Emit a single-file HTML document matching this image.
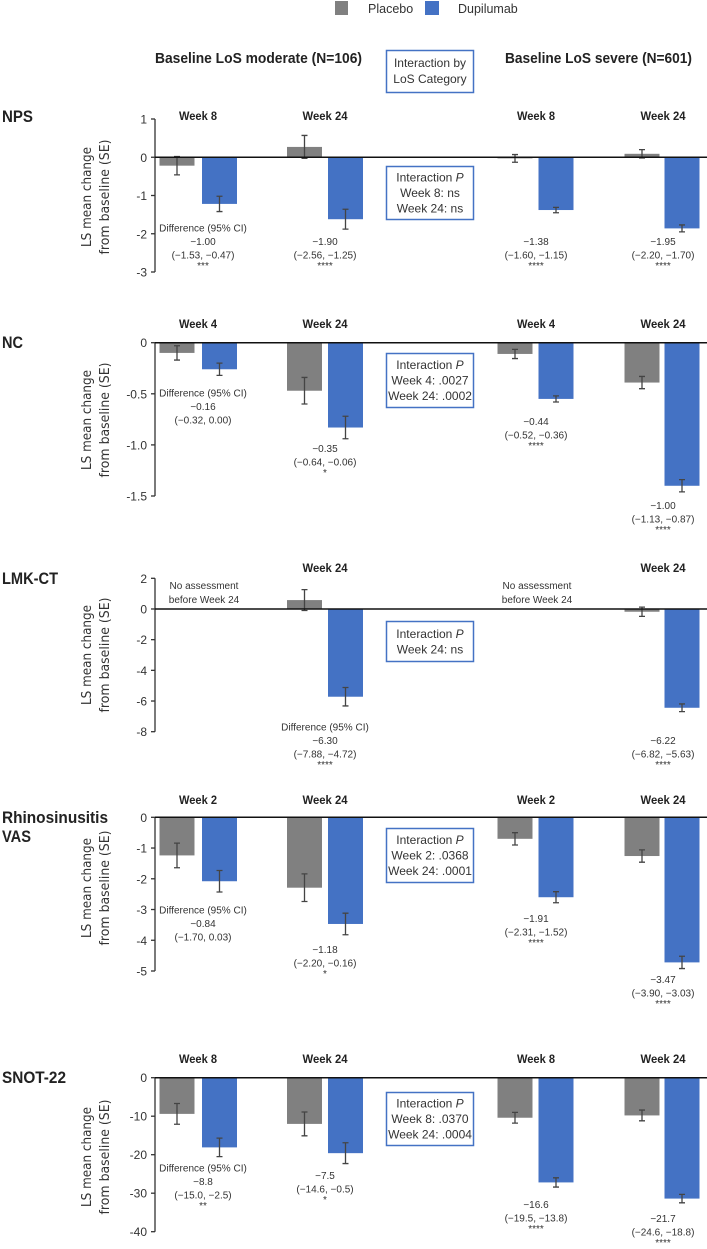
<!DOCTYPE html>
<html><head><meta charset="utf-8">
<style>
html,body{margin:0;padding:0;background:#fff;}
svg{display:block;font-family:"Liberation Sans Narrow","Liberation Sans",sans-serif;}
.b{font-weight:bold;fill:#222;}
.t{fill:#333;font-size:10px;}
.tk{fill:#333;font-size:12px;font-family:"Liberation Sans",sans-serif;}
</style></head>
<body>
<svg id="chart" width="707" height="1249" viewBox="0 0 707 1249">
  <g>
    <rect x="335" y="1" width="13" height="14" fill="#808080"/>
    <text x="368" y="13" font-size="12.5" fill="#333">Placebo</text>
    <rect x="425" y="1" width="14" height="14" fill="#4472c4"/>
    <text x="458" y="13" font-size="12.5" fill="#333">Dupilumab</text>
  </g>
  <text class="b" x="155" y="63" font-size="15" textLength="207" lengthAdjust="spacingAndGlyphs">Baseline LoS moderate (N=106)</text>
  <text class="b" x="505" y="63" font-size="15" textLength="187" lengthAdjust="spacingAndGlyphs">Baseline LoS severe (N=601)</text>
  <g>
    <rect x="386.5" y="50.5" width="87" height="42" fill="#fff" stroke="#4472c4" stroke-width="1.5"/>
    <text x="430" y="67" font-size="12" fill="#333" text-anchor="middle">Interaction by</text>
    <text x="430" y="83" font-size="12" fill="#333" text-anchor="middle">LoS Category</text>
  </g>
  <g id="panels"></g>
</svg>
<script>
// ---- data ----
const weeksNPS = ["Week 8","Week 24","Week 8","Week 24"];
const npsPlacebo = [-0.22, 0.27, -0.03, 0.09];
const npsPlaceboSE = [0.24, 0.30, 0.10, 0.11];
const npsDupi = [-1.22, -1.62, -1.38, -1.86];
const npsDupiSE = [0.20, 0.26, 0.07, 0.09];
const npsTicks = [1, 0, -1, -2, -3];
const npsTickLabels = ["1","0","-1","-2","-3"];
const npsDiff = [["−1.00","(−1.53, −0.47)","***"],["−1.90","(−2.56, −1.25)","****"],["−1.38","(−1.60, −1.15)","****"],["−1.95","(−2.20, −1.70)","****"]];
const npsInter = ["Interaction P","Week 8: ns","Week 24: ns"];

const weeksNC = ["Week 4","Week 24","Week 4","Week 24"];
const ncPlacebo = [-0.10, -0.47, -0.11, -0.39];
const ncPlaceboSE = [0.07, 0.13, 0.045, 0.06];
const ncDupi = [-0.26, -0.83, -0.55, -1.40];
const ncDupiSE = [0.06, 0.11, 0.03, 0.06];
const ncTicks = [0, -0.5, -1.0, -1.5];
const ncTickLabels = ["0","-0.5","-1.0","-1.5"];
const ncDiff = [["−0.16","(−0.32, 0.00)",""],["−0.35","(−0.64, −0.06)","*"],["−0.44","(−0.52, −0.36)","****"],["−1.00","(−1.13, −0.87)","****"]];
const ncInter = ["Interaction P","Week 4: .0027","Week 24: .0002"];

const weeksLMK = ["","Week 24","","Week 24"];
const lmkPlacebo = [null, 0.58, null, -0.18];
const lmkPlaceboSE = [null, 0.68, null, 0.30];
const lmkDupi = [null, -5.72, null, -6.44];
const lmkDupiSE = [null, 0.60, null, 0.25];
const lmkTicks = [2, 0, -2, -4, -6, -8];
const lmkTickLabels = ["2","0","-2","-4","-6","-8"];
const lmkDiff = [null,["−6.30","(−7.88, −4.72)","****"],null,["−6.22","(−6.82, −5.63)","****"]];
const lmkInter = ["Interaction P","Week 24: ns"];

const weeksVAS = ["Week 2","Week 24","Week 2","Week 24"];
const vasPlacebo = [-1.24, -2.29, -0.70, -1.26];
const vasPlaceboSE = [0.40, 0.45, 0.20, 0.20];
const vasDupi = [-2.08, -3.47, -2.60, -4.72];
const vasDupiSE = [0.35, 0.35, 0.18, 0.20];
const vasTicks = [0, -1, -2, -3, -4, -5];
const vasTickLabels = ["0","-1","-2","-3","-4","-5"];
const vasDiff = [["−0.84","(−1.70, 0.03)",""],["−1.18","(−2.20, −0.16)","*"],["−1.91","(−2.31, −1.52)","****"],["−3.47","(−3.90, −3.03)","****"]];
const vasInter = ["Interaction P","Week 2: .0368","Week 24: .0001"];

const weeksSNOT = ["Week 8","Week 24","Week 8","Week 24"];
const snotPlacebo = [-9.4, -12.0, -10.4, -9.8];
const snotPlaceboSE = [2.7, 3.1, 1.4, 1.4];
const snotDupi = [-18.1, -19.6, -27.2, -31.4];
const snotDupiSE = [2.4, 2.7, 1.2, 1.1];
const snotTicks = [0, -10, -20, -30, -40];
const snotTickLabels = ["0","-10","-20","-30","-40"];
const snotDiff = [["−8.8","(−15.0, −2.5)","**"],["−7.5","(−14.6, −0.5)","*"],["−16.6","(−19.5, −13.8)","****"],["−21.7","(−24.6, −18.8)","****"]];
const snotInter = ["Interaction P","Week 8: .0370","Week 24: .0004"];

// ---- layout (not data) ----
const NS = "http://www.w3.org/2000/svg";
const root = document.getElementById("panels");
const pCx = [177, 304.5, 515, 642], dCx = [219.5, 345.5, 556, 682], gCx = [203, 325, 536, 663], wkX = [198, 325, 536, 663];
const BW = 35, AX = 155;

const panels = [
 {id:"nps", title:["NPS"], tw:[31], titleY:[122], weekY:120, dTop:1, dBot:-3, pxTop:119, pxBot:272,
  weeks:weeksNPS, pl:npsPlacebo, plSE:npsPlaceboSE, du:npsDupi, duSE:npsDupiSE, ticks:npsTicks, tl:npsTickLabels,
  diff:npsDiff, diffY:[245,245,245,245], diffLabelG:0, inter:npsInter, boxY:166, boxH:53, ytY:197},
 {id:"nc", title:["NC"], tw:[21], titleY:[348], weekY:328, dTop:0, dBot:-1.5, pxTop:342.7, pxBot:496,
  weeks:weeksNC, pl:ncPlacebo, plSE:ncPlaceboSE, du:ncDupi, duSE:ncDupiSE, ticks:ncTicks, tl:ncTickLabels,
  diff:ncDiff, diffY:[410,452,425,509], diffLabelG:0, inter:ncInter, boxY:353, boxH:54, ytY:420},
 {id:"lmk-ct", title:["LMK-CT"], tw:[56], titleY:[584], weekY:572, dTop:2, dBot:-8, pxTop:578.3, pxBot:731.7,
  weeks:weeksLMK, pl:lmkPlacebo, plSE:lmkPlaceboSE, du:lmkDupi, duSE:lmkDupiSE, ticks:lmkTicks, tl:lmkTickLabels,
  diff:lmkDiff, diffY:[0,744,0,744], diffLabelG:1, inter:lmkInter, boxY:621, boxH:40, ytY:655},
 {id:"rhinosinusitis-vas", title:["Rhinosinusitis","VAS"], tw:[106,29], titleY:[823,842], weekY:804, dTop:0, dBot:-5, pxTop:817.3, pxBot:971,
  weeks:weeksVAS, pl:vasPlacebo, plSE:vasPlaceboSE, du:vasDupi, duSE:vasDupiSE, ticks:vasTicks, tl:vasTickLabels,
  diff:vasDiff, diffY:[927,953,922,983], diffLabelG:0, inter:vasInter, boxY:828, boxH:54, ytY:888},
 {id:"snot-22", title:["SNOT-22"], tw:[64], titleY:[1083], weekY:1063, dTop:0, dBot:-40, pxTop:1077.7, pxBot:1231.7,
  weeks:weeksSNOT, pl:snotPlacebo, plSE:snotPlaceboSE, du:snotDupi, duSE:snotDupiSE, ticks:snotTicks, tl:snotTickLabels,
  diff:snotDiff, diffY:[1185,1179,1208,1222], diffLabelG:0, inter:snotInter, boxY:1092, boxH:53, ytY:1157}
];

function mk(tag, attrs, parent){ const e=document.createElementNS(NS,tag); for(const k in attrs) e.setAttribute(k,attrs[k]); parent.appendChild(e); return e; }
function txt(x,y,s,cls,anchor,parent,size){ const e=mk("text",{x:x,y:y,class:cls,"text-anchor":anchor||"middle"},parent); if(size) e.setAttribute("font-size",size); e.textContent=s; return e; }

panels.forEach(p=>{
  const g = mk("g",{},root);
  
  
  const y = v => p.pxTop + (p.dTop - v) * (p.pxBot - p.pxTop) / (p.dTop - p.dBot);
  const y0 = y(0);
  p.title.forEach((s,i)=>{ const t=txt(2,p.titleY[i],s,"b","start",g,16.5);
    t.setAttribute("textLength", p.tw[i]); t.setAttribute("lengthAdjust","spacingAndGlyphs");
    
     });
  const yt = mk("g",{transform:"translate(95,"+p.ytY+") rotate(-90)"},g);
  
  
  mk("text",{x:0,y:-4,"text-anchor":"middle","font-size":"13.5",fill:"#333","font-family":"DejaVu Sans, sans-serif",textLength:"100",lengthAdjust:"spacingAndGlyphs"},yt).textContent="LS mean change";
  mk("text",{x:0,y:14,"text-anchor":"middle","font-size":"13.5",fill:"#333","font-family":"DejaVu Sans, sans-serif",textLength:"115",lengthAdjust:"spacingAndGlyphs"},yt).textContent="from baseline (SE)";
  const ax = mk("line",{x1:AX,x2:AX,y1:y(p.dTop),y2:y(p.dBot),stroke:"#333","stroke-width":1.3},g);
  
  
  p.ticks.forEach((t,i)=>{
    mk("line",{x1:AX-4,x2:AX,y1:y(t),y2:y(t),stroke:"#333","stroke-width":1.3},g);
    const tl = txt(AX-8,y(t)+4.5,p.tl[i],"tk","end",g);
    
    
  });
  for(let i=0;i<4;i++){
    if(p.weeks[i]){ const w=txt(wkX[i],p.weekY,p.weeks[i],"b","middle",g,12);
      w.setAttribute("textLength", p.weeks[i].length>6 ? 45 : 38); w.setAttribute("lengthAdjust","spacingAndGlyphs");
      
       }
    [[p.pl,p.plSE,pCx,"#808080","placebo"],[p.du,p.duSE,dCx,"#4472c4","dupilumab"]].forEach(s=>{
      const v=s[0][i]; if(v===null) return;
      const yv=y(v);
      const r=mk("rect",{x:s[2][i]-BW/2,y:Math.min(yv,y0),width:BW,height:Math.max(Math.abs(yv-y0),1),fill:s[3]},g);
      
      
      const se=s[1][i], cx=s[2][i];
      const eb=mk("path",{d:"M"+cx+","+y(v+se)+"V"+y(v-se)+"M"+(cx-3)+","+y(v+se)+"h6M"+(cx-3)+","+y(v-se)+"h6",stroke:"#444","stroke-width":1.3,fill:"none"},g);
      
      
    });
    const d=p.diff[i];
    if(d){
      const dy=p.diffY[i];
      const dg=mk("g",{},g);
      
      
      if(i===p.diffLabelG) txt(gCx[i],dy-13.5,"Difference (95% CI)","t","middle",dg);
      txt(gCx[i],dy,d[0],"t","middle",dg);
      txt(gCx[i],dy+13.5,d[1],"t","middle",dg);
      if(d[2]) txt(gCx[i],dy+24,d[2],"t","middle",dg,8);
    } else if(p.id==="lmk-ct"){
      const na=mk("g",{},g);
      
      
      txt(gCx[i]+1,589,"No assessment","t","middle",na);
      txt(gCx[i]+1,603,"before Week 24","t","middle",na);
    }
  }
  const z=mk("line",{x1:AX,x2:707,y1:y0,y2:y0,stroke:"#111","stroke-width":1.5},g);
  
  
  const bx=mk("g",{},g);
  
  
  mk("rect",{x:386.5,y:p.boxY+0.5,width:87,height:p.boxH,fill:"#fff",stroke:"#4472c4","stroke-width":1.5},bx);
  const n=p.inter.length, step=15.5, start=p.boxY+p.boxH/2-(n-1)*step/2+4.5;
  p.inter.forEach((s,k)=>{
    const t=mk("text",{x:430,y:start+k*step,"text-anchor":"middle","font-size":"12",fill:"#333"},bx);
    if(k===0){ t.textContent="Interaction "; const it=mk("tspan",{"font-style":"italic"},t); it.textContent="P"; }
    else t.textContent=s;
  });
});
</script>
</body></html>
